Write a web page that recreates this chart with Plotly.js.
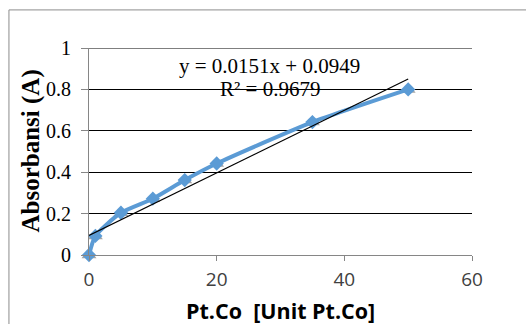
<!DOCTYPE html>
<html><head><meta charset="utf-8">
<script src="https://cdn.plot.ly/plotly-3.0.1.min.js"></script>
<style>html,body{margin:0;padding:0;background:#fff}#c{width:526px;height:324px}</style>
</head><body><div id="c"></div>
<script>
const concentration = [0, 1, 5, 10, 15, 20, 35, 50];
const absorbance = [0, 0.092, 0.204, 0.272, 0.362, 0.442, 0.642, 0.80];
const slope = 0.0151, intercept = 0.0949;
const trendX = [0, 50];
const trendY = trendX.map(x => slope * x + intercept);
const xTicks = [0, 20, 40, 60];
const yTicks = [0, 0.2, 0.4, 0.6, 0.8, 1];
const yTickText = ['0', '0.2', '0.4', '0.6', '0.8', '1'];

const serif = 'Liberation Serif, Times New Roman, serif';
const sans = 'Open Sans, Liberation Sans, sans-serif';

const traces = [
  {x: concentration, y: absorbance, mode: 'markers', type: 'scatter', cliponaxis: false,
   marker: {symbol: 'triangle-up', size: 13, color: '#a6a6a6'}, hoverinfo: 'skip'},
  {x: concentration, y: absorbance, mode: 'lines+markers', type: 'scatter', cliponaxis: false,
   line: {color: '#5b9bd5', width: 4, shape: 'spline', smoothing: 0.6},
   marker: {symbol: 'diamond', size: 11, color: '#5b9bd5'}},
  {x: trendX, y: trendY, mode: 'lines', type: 'scatter', cliponaxis: false,
   line: {color: '#000', width: 1.2}}
];

const layout = {
  width: 526, height: 324, showlegend: false,
  paper_bgcolor: '#fff', plot_bgcolor: '#fff',
  margin: {l: 89, r: 54, t: 48, b: 69},
  xaxis: {range: [0, 60], tickvals: xTicks, ticktext: xTicks.map(String),
    showgrid: false, zeroline: false, showline: true, linecolor: '#868686', linewidth: 1,
    ticks: 'outside', ticklen: 5, tickcolor: '#868686', ticklabelstandoff: 2,
    tickfont: {family: sans, size: 19, color: '#404040'}},
  yaxis: {range: [0, 1], tickvals: yTicks, ticktext: yTickText,
    showgrid: true, gridcolor: '#000', gridwidth: 1, zeroline: false,
    showline: true, linecolor: '#868686', linewidth: 1,
    ticks: 'outside', ticklen: 7, tickcolor: '#868686', ticklabelstandoff: 6,
    tickfont: {family: serif, size: 20, color: '#000'}},
  annotations: [
    {xref: 'paper', yref: 'paper', x: 0.472, y: 0.913, xanchor: 'center', yanchor: 'middle', showarrow: false,
     text: 'y = 0.0151x + 0.0949', font: {family: serif, size: 21, color: '#000'}},
    {xref: 'paper', yref: 'paper', x: 0.472, y: 0.80, xanchor: 'center', yanchor: 'middle', showarrow: false,
     text: 'R² = 0.9679', font: {family: serif, size: 21, color: '#000'}},
    {xref: 'paper', yref: 'paper', x: -0.154, y: 0.5, xanchor: 'center', yanchor: 'middle', showarrow: false,
     textangle: -90, text: '<b>Absorbansi (A)</b>', font: {family: serif, size: 25, color: '#000'}},
    {xref: 'paper', yref: 'paper', x: 0.499, y: -0.266, xanchor: 'center', yanchor: 'middle', showarrow: false,
     text: '<b>Pt.Co  [Unit Pt.Co]</b>', font: {family: sans, size: 21.5, color: '#000'}}
  ],
  shapes: [
    {type: 'line', xref: 'paper', yref: 'y', x0: 0, x1: 1, y0: 1, y1: 1, line: {color: '#000', width: 1}, layer: 'below'},
    {type: 'rect', xref: 'paper', yref: 'paper', x0: -0.209, x1: 1.3, y0: -0.5, y1: 1.184,
     line: {color: '#8c8c8c', width: 1}, fillcolor: 'rgba(0,0,0,0)', layer: 'below'}
  ]
};
Plotly.newPlot('c', traces, layout, {staticPlot: true});
</script></body></html>
